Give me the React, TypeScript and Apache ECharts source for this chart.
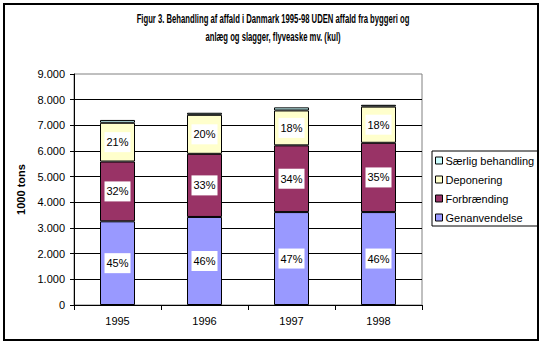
import React, { useEffect, useRef } from "react";
import * as echarts from "echarts";

const years = ["1995", "1996", "1997", "1998"];
const genanvendelse = [3260, 3430, 3620, 3620];
const forbraending = [2330, 2460, 2600, 2700];
const deponering = [1510, 1520, 1360, 1410];
const saerlig = [110, 80, 120, 70];

const titleLines = [
  "Figur 3. Behandling af affald i Danmark 1995-98 UDEN affald fra byggeri og",
  "anlæg og slagger, flyveaske mv. (kul)",
];
const yAxisName = "1000 tons";

const totals = years.map(
  (_, i) => genanvendelse[i] + forbraending[i] + deponering[i] + saerlig[i]
);

const fmtThousands = (v: number) => {
  if (v === 0) return "0";
  const th = Math.floor(v / 1000);
  const rest = String(v % 1000).padStart(3, "0");
  return th + "." + rest;
};

export default function App() {
  const ref = useRef<HTMLDivElement>(null);
  useEffect(() => {
    if (!ref.current) return;
    const chart = echarts.init(ref.current, undefined, { renderer: "svg" });

    const canvas = document.createElement("canvas");
    const ctx = canvas.getContext("2d")!;
    ctx.font = "bold 12px Arial";
    const w1 = ctx.measureText(titleLines[0]).width || 430;
    const sx = 273 / w1;

    const pctLabel = {
      show: true,
      position: "inside",
      color: "#000",
      fontFamily: "Arial",
      fontSize: 11,
      backgroundColor: "#fff",
      padding: [5, 2, 4, 2],
      formatter: (p: any) =>
        Math.round((p.value / totals[p.dataIndex]) * 100) + "%",
    };

    const barStyle = (color: string) => ({
      color,
      borderColor: "#000",
      borderWidth: 1,
    });

    chart.setOption({
      animation: false,
      backgroundColor: "#fff",
      textStyle: { fontFamily: "Arial" },
      graphic: [
        {
          type: "rect",
          shape: { x: 4, y: 4, width: 534, height: 336 },
          style: { fill: "none", stroke: "#000", lineWidth: 2 },
          silent: true,
        },
        {
          type: "text",
          x: 273,
          y: 19,
          scaleX: sx,
          style: {
            text: titleLines[0],
            font: "bold 12px Arial",
            fill: "#000",
            textAlign: "center",
            textVerticalAlign: "middle",
          },
        },
        {
          type: "text",
          x: 273,
          y: 37,
          scaleX: sx,
          style: {
            text: titleLines[1],
            font: "bold 12px Arial",
            fill: "#000",
            textAlign: "center",
            textVerticalAlign: "middle",
          },
        },
      ],
      grid: {
        left: 74,
        top: 74,
        width: 348,
        height: 231,
        show: true,
        borderColor: "#808080",
        borderWidth: 1,
        backgroundColor: "transparent",
      },
      legend: {
        orient: "vertical",
        left: 432,
        top: 151,
        data: ["Særlig behandling", "Deponering", "Forbrænding", "Genanvendelse"],
        borderColor: "#000",
        borderWidth: 1,
        padding: [4, 4, 3, 3],
        itemWidth: 7,
        itemHeight: 7,
        itemGap: 8,
        icon: "rect",
        itemStyle: { borderColor: "#000", borderWidth: 1 },
        textStyle: { fontFamily: "Arial", fontSize: 11, color: "#000", padding: [0, 0, 0, -2] },
      },
      xAxis: {
        type: "category",
        data: years,
        axisLine: { lineStyle: { color: "#000", width: 1 } },
        axisTick: { show: true, length: 5, inside: false, lineStyle: { color: "#000" } },
        axisLabel: { color: "#000", fontSize: 11, fontFamily: "Arial", margin: 10 },
      },
      yAxis: {
        type: "value",
        min: 0,
        max: 9000,
        interval: 1000,
        name: yAxisName,
        nameLocation: "middle",
        nameRotate: 90,
        nameGap: 42,
        nameTextStyle: { fontWeight: "bold", fontSize: 11, fontFamily: "Arial", color: "#000" },
        axisLine: { show: true, lineStyle: { color: "#000", width: 1 } },
        axisTick: { show: true, length: 4, inside: false, lineStyle: { color: "#000" } },
        axisLabel: {
          color: "#000",
          fontSize: 11,
          fontFamily: "Arial",
          margin: 9,
          formatter: (v: number) => fmtThousands(v),
        },
        splitLine: { show: true, showMaxLine: false, lineStyle: { color: "#000", width: 1 } },
      },
      series: [
        {
          name: "Genanvendelse",
          type: "bar",
          stack: "s",
          data: genanvendelse,
          barWidth: 35,
          itemStyle: barStyle("#9999FF"),
          label: pctLabel,
        },
        {
          name: "Forbrænding",
          type: "bar",
          stack: "s",
          data: forbraending,
          itemStyle: barStyle("#993366"),
          label: pctLabel,
        },
        {
          name: "Deponering",
          type: "bar",
          stack: "s",
          data: deponering,
          itemStyle: barStyle("#FFFFCC"),
          label: pctLabel,
        },
        {
          name: "Særlig behandling",
          type: "bar",
          stack: "s",
          data: saerlig,
          itemStyle: barStyle("#CCFFFF"),
          label: { show: false },
        },
      ],
    });
    return () => chart.dispose();
  }, []);
  return (
    <div
      ref={ref}
      style={{ position: "fixed", left: 0, top: 0, width: 547, height: 348 }}
    />
  );
}
